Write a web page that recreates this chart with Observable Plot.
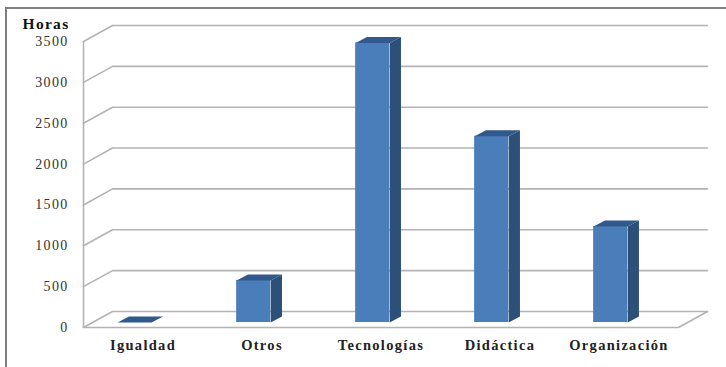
<!DOCTYPE html>
<html>
<head>
<meta charset="utf-8">
<script src="https://cdn.jsdelivr.net/npm/d3@7"></script>
<script src="https://cdn.jsdelivr.net/npm/@observablehq/plot@0.6"></script>
<style>
  html, body { margin: 0; padding: 0; background: #fff; }
  #chart { position: relative; width: 726px; height: 367px; overflow: hidden; }
  #chart svg { display: block; position: absolute; left: 0; top: 0; }
  #frame { position: absolute; left: 5px; top: 7px; width: 760px; height: 400px; border: 2px solid #808080; box-sizing: border-box; }
</style>
</head>
<body>
<div id="chart"><div id="frame"></div></div>
<script>
const categories = ["Igualdad", "Otros", "Tecnologías", "Didáctica", "Organización"];
const hours = [0, 515, 3420, 2280, 1176];
const yTicks = [0, 500, 1000, 1500, 2000, 2500, 3000, 3500];

// Oblique projection of the box: depth is expressed in axis units.
const wallDepthX = 0.244, wallDepthY = 196;
const barBaseY = 61;
const barOffset = 0.302, barWidth = 0.286;
const barDepthX = 0.095, barDepthY = 73;

const nCat = categories.length;

// Floor polygon and back-wall gridlines with their slanted left ends
const floor = [
  {x: 0, y: 0}, {x: nCat, y: 0},
  {x: nCat + wallDepthX, y: wallDepthY}, {x: wallDepthX, y: wallDepthY}, {x: 0, y: 0}
];
const gridLines = yTicks.filter(v => v > 0).flatMap(v => [
  {v, x: 0, y: v},
  {v, x: wallDepthX, y: v + wallDepthY},
  {v, x: nCat + wallDepthX, y: v + wallDepthY}
]);
const leftEdge = [{x: 0, y: 0}, {x: 0, y: 3500}];

// Faces of each column
const bars = categories.map((name, i) => {
  const x1 = i + barOffset - 0.015, x2 = x1 + barWidth;
  return {name, x1, x2, y1: barBaseY, y2: barBaseY + hours[i]};
});
const sideFaces = bars.flatMap(b => [
  {name: b.name, x: b.x2, y: b.y1},
  {name: b.name, x: b.x2 + barDepthX, y: b.y1 + barDepthY},
  {name: b.name, x: b.x2 + barDepthX, y: b.y2 + barDepthY},
  {name: b.name, x: b.x2, y: b.y2}
]);
const topFaces = bars.flatMap(b => [
  {name: b.name, x: b.x1, y: b.y2},
  {name: b.name, x: b.x2, y: b.y2},
  {name: b.name, x: b.x2 + barDepthX, y: b.y2 + barDepthY},
  {name: b.name, x: b.x1 + barDepthX, y: b.y2 + barDepthY}
]);

const serif = "'Liberation Serif', serif";
const gridColor = "#b3b3b3";

const plot = Plot.plot({
  width: 726,
  height: 367,
  marginLeft: 83,
  marginRight: 19,
  marginTop: 25,
  marginBottom: 40,
  style: {background: "transparent", fontFamily: serif, letterSpacing: "1.3px"},
  x: {domain: [0, nCat + wallDepthX], axis: null},
  y: {domain: [0, 3500 + wallDepthY]},
  marks: [
    Plot.line(floor, {x: "x", y: "y", stroke: gridColor, strokeWidth: 1.6}),
    Plot.line(gridLines, {x: "x", y: "y", z: "v", stroke: gridColor, strokeWidth: 1.6}),
    Plot.line(leftEdge, {x: "x", y: "y", stroke: gridColor, strokeWidth: 1.6}),
    Plot.line(sideFaces, {x: "x", y: "y", z: "name", fill: "#2c5078", stroke: null}),
    Plot.rect(bars, {x1: "x1", x2: "x2", y1: "y1", y2: "y2", fill: "#4a7ebb"}),
    Plot.line(topFaces, {x: "x", y: "y", z: "name", fill: "#31598b", stroke: null}),
    Plot.axisY({
      ticks: yTicks, tickSize: 0, tickPadding: 15, label: null,
      fontSize: 14, fill: "#333", fontWeight: 400,
      tickFormat: d => String(d)
    }),
    Plot.text(categories, {
      x: (d, i) => i + 0.5, y: 0, text: d => d, dy: 18,
      fontSize: 14.5, fontWeight: 700, fill: "#222"
    }),
    Plot.text(["Horas"], {
      x: 0, y: 3500, text: d => d, dx: -14, dy: -17,
      textAnchor: "end", fontSize: 15.5, fontWeight: 700, fill: "#111"
    })
  ]
});
document.getElementById("chart").prepend(plot);
</script>
</body>
</html>
